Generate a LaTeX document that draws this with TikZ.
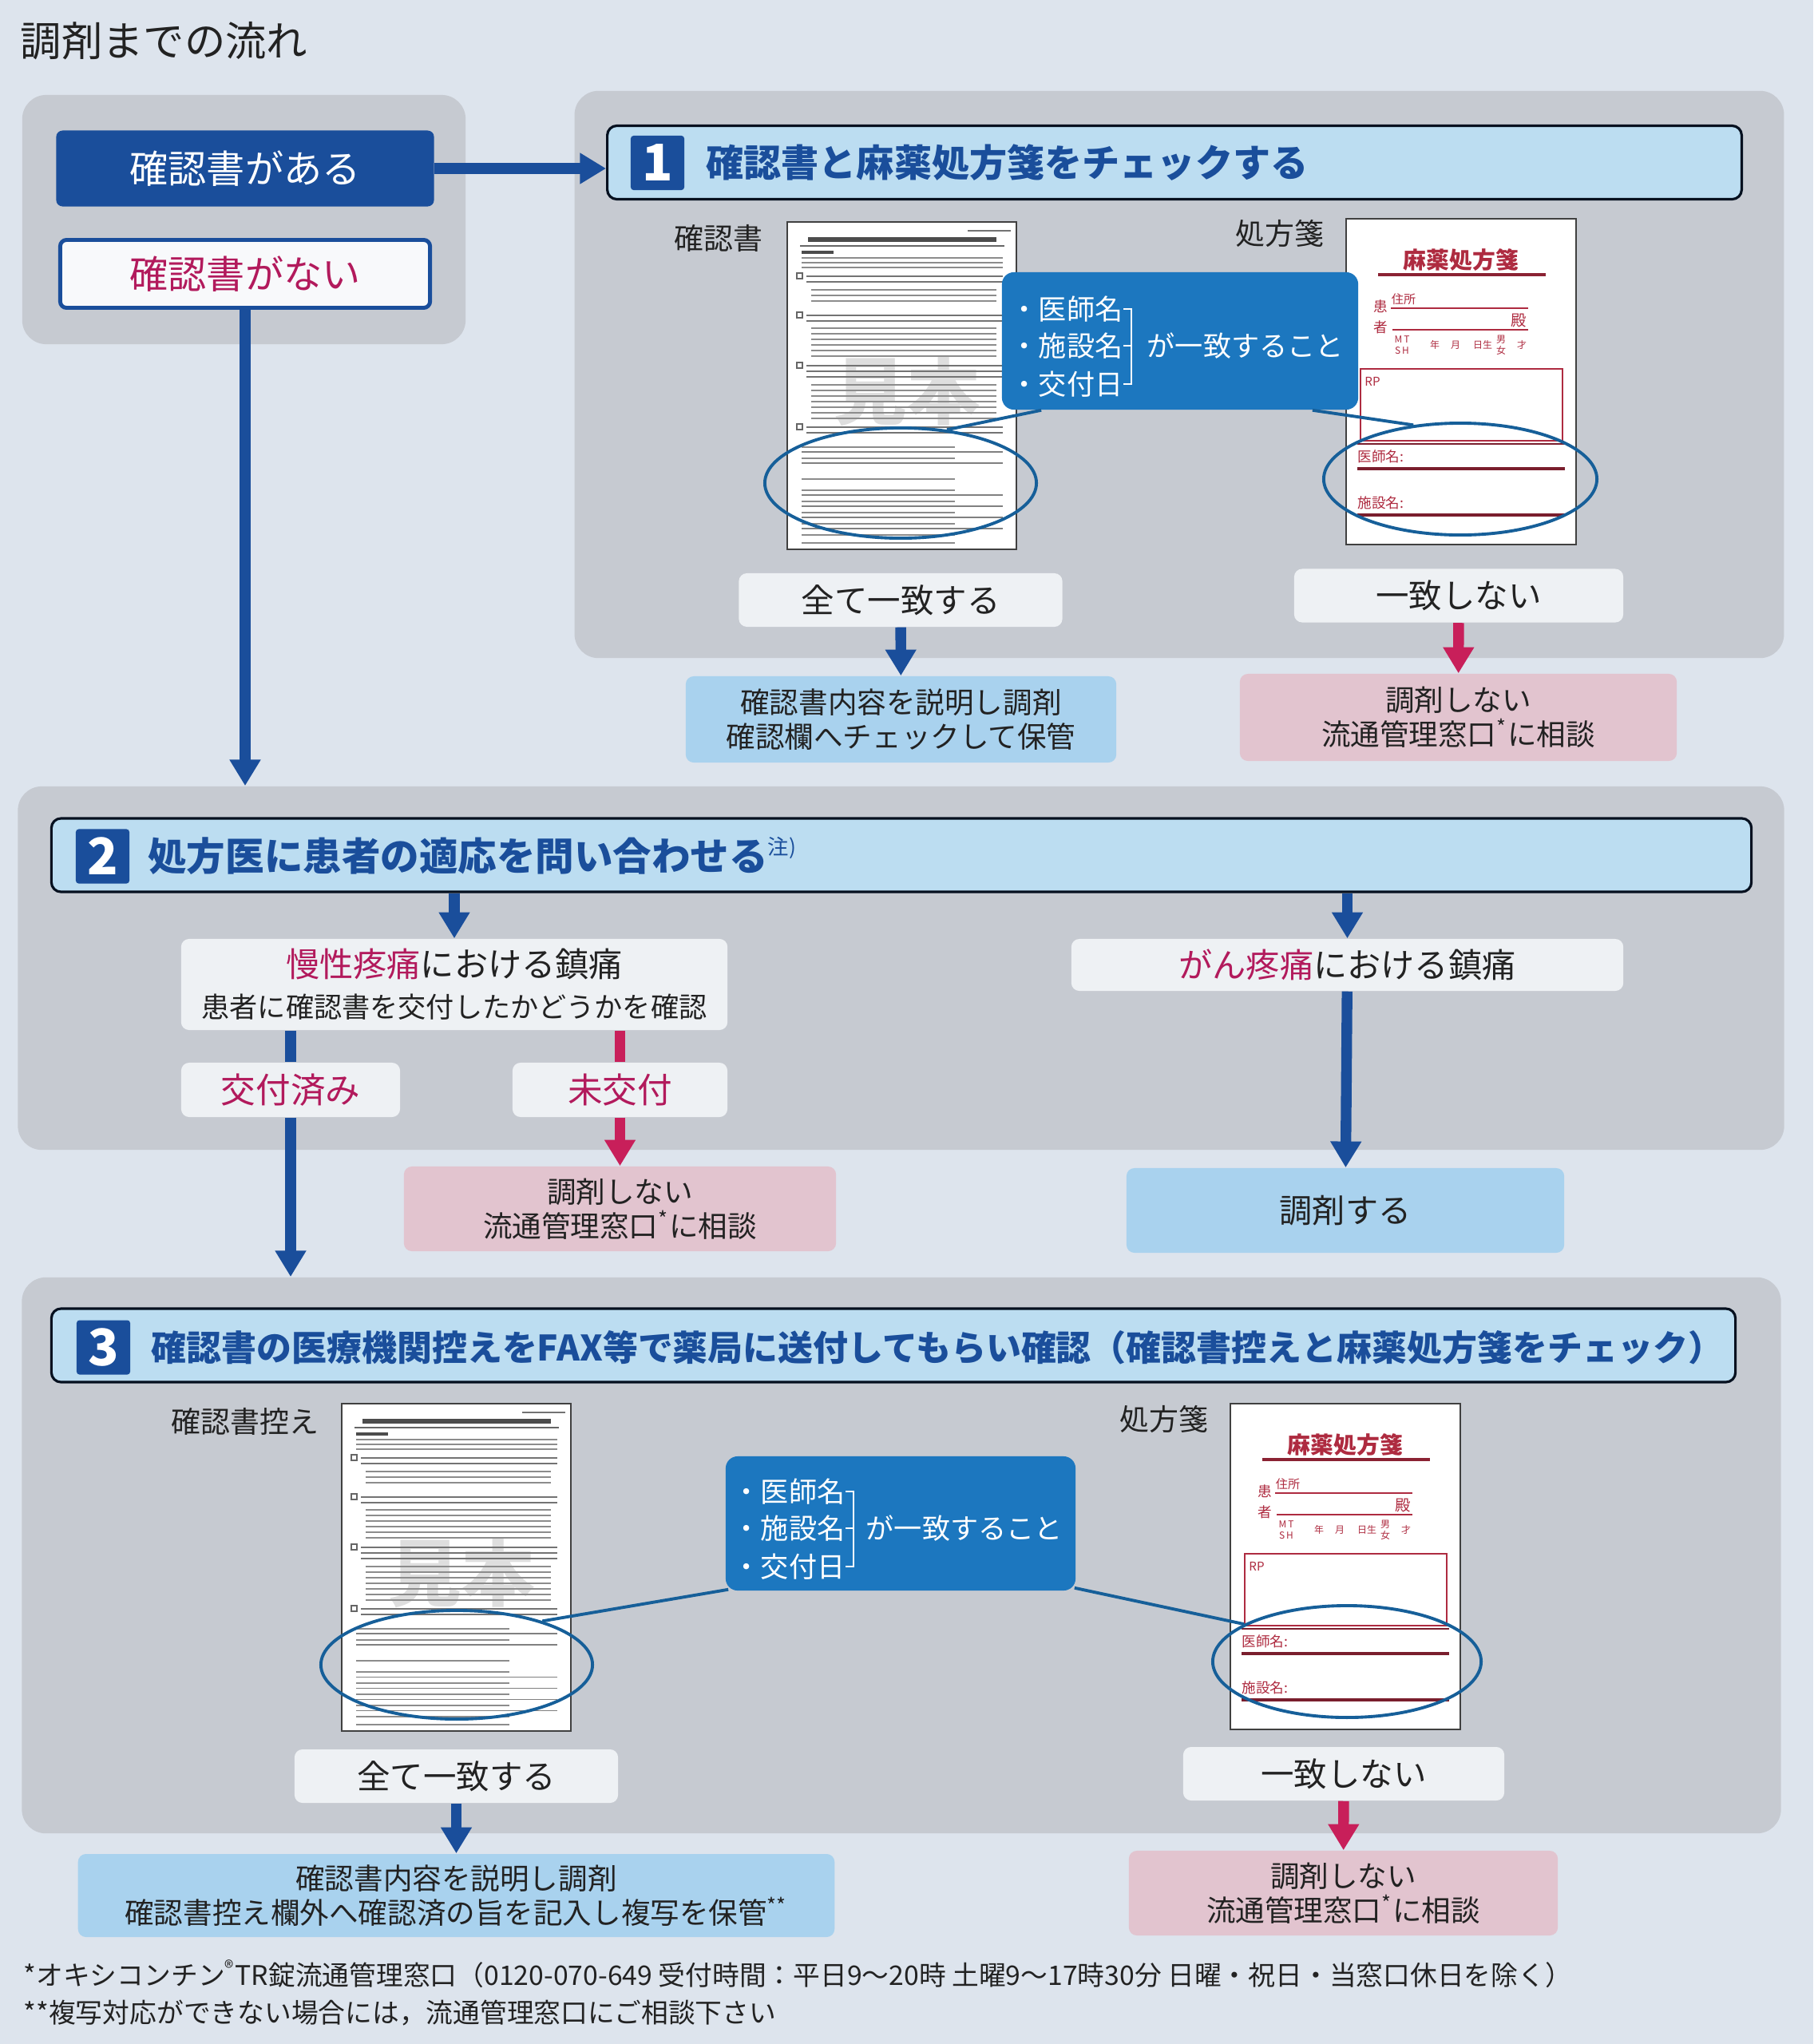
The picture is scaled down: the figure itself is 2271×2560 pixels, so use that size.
\documentclass[tikz,border=0pt]{standalone}
\usepackage{fontspec}
\setmainfont{Noto Sans CJK JP}
\usepackage{xcolor}
\usepackage{tikz}
\usetikzlibrary{shapes.geometric, arrows.meta, positioning, calc}
\definecolor{PaperGray}{HTML}{DDE4ED}
\definecolor{PanelGray}{HTML}{C6CAD1}
\definecolor{DeepBlue}{HTML}{1A4E9B}
\definecolor{HeaderBlue}{HTML}{BCDDF1}
\definecolor{CalloutBlue}{HTML}{1C77BF}
\definecolor{ResultBlue}{HTML}{A9D2EE}
\definecolor{ResultPink}{HTML}{E2C4CF}
\definecolor{LabelWhite}{HTML}{EEF1F4}
\definecolor{AlertRed}{HTML}{C81F5A}
\definecolor{AlertMagenta}{HTML}{B21A5C}
\definecolor{RxRed}{HTML}{AE2B40}
\definecolor{InkDark}{HTML}{222222}

\begin{document}
\begin{tikzpicture}[
    x=0.01cm, y=-0.01cm,
    panel/.style={fill=PanelGray, rounded corners=0.3cm, inner sep=0pt},
    startbox/.style={rounded corners=0.08cm, minimum width=4.73cm, minimum height=0.95cm, inner sep=0pt,
                     font=\fontsize{13.7}{16}\selectfont},
    header/.style={draw=black!80!DeepBlue, line width=0.9pt, fill=HeaderBlue, rounded corners=0.12cm,
                   minimum height=0.92cm, inner sep=0pt},
    numbox/.style={fill=DeepBlue, text=white, minimum width=0.67cm, minimum height=0.68cm, inner sep=0pt,
                   rounded corners=1pt, font=\bfseries\fontsize{18}{18}\selectfont},
    headtext/.style={anchor=west, inner sep=0pt, text=DeepBlue, font=\bfseries\fontsize{13.4}{16}\selectfont},
    doclabel/.style={text=InkDark, inner sep=0pt, font=\fontsize{10.5}{12}\selectfont},
    choice/.style={fill=LabelWhite, rounded corners=0.1cm, minimum height=0.67cm, inner sep=0pt,
                   text=InkDark, font=\fontsize{11.8}{14}\selectfont},
    okbox/.style={fill=ResultBlue, rounded corners=0.1cm, inner sep=0pt, align=center,
                  text=InkDark, font=\fontsize{10.4}{12.2}\selectfont},
    ngbox/.style={okbox, fill=ResultPink},
    bubble/.style={fill=CalloutBlue, rounded corners=0.15cm, inner sep=0pt},
    calltext/.style={anchor=west, inner sep=0pt, text=white, font=\fontsize{10}{12}\selectfont},
    bracket/.style={white, line width=0.6pt},
    hilite/.style={ellipse, draw=CalloutBlue!80!black, line width=1.1pt, inner sep=0pt},
    lead/.style={CalloutBlue!80!black, line width=1.1pt},
    blarrow/.style={-{Triangle[length=9.3pt, width=10.5pt]}, line width=3.8pt, DeepBlue},
    rdarrow/.style={-{Triangle[length=9.3pt, width=10.5pt]}, line width=3.8pt, AlertRed},
    bline/.style={line width=3.8pt, DeepBlue},
    rline/.style={line width=3.8pt, AlertRed},
    docframe/.style={draw=black!75, line width=0.5pt, fill=white},
    docline/.style={black!45, line width=0.35pt},
    rxline/.style={RxRed, line width=0.5pt},
    rxtext/.style={text=RxRed, inner sep=0pt, font=\fontsize{4.3}{5}\selectfont},
    confdoc/.pic={
      \draw[docframe] (0,0) rectangle (287,410);
      \node[text=black!13, inner sep=0pt, font=\bfseries\fontsize{26}{26}\selectfont] (-mark) at (150,212) {見本};
      \draw[black!55, line width=0.8pt] (226,11) -- (280,11);
      \draw[black!70, line width=1.8pt] (26,22) -- (262,22);
      \draw[black!60, line width=0.5pt] (16,30) -- (272,30);
      \draw[black!70, line width=1pt] (18,38) -- (58,38);
      \foreach \yy in {45,51,57} \draw[docline] (18,\yy) -- (270,\yy);
      \foreach \yy in {68,117,180,257} \draw[black!60, line width=0.4pt] (12,\yy-4) rectangle ++(7,7);
      \foreach \yy in {68,75,117,124,180,187,194,257,264} \draw[black!55, line width=0.6pt] (24,\yy) -- (270,\yy);
      \foreach \yy in {85,92,99,133,140,147,154,161,168,204,211,218,225,232,239,246}
        \draw[docline] (30,\yy) -- (262,\yy);
      \foreach \yy in {282,296,322,336,350,364,378,392,402} \draw[docline] (18,\yy) -- (210,\yy);
      \foreach \yy in {288,302,342,356,370,384} \draw[black!50, line width=0.3pt] (18,\yy) -- (270,\yy);
    },
    rxdoc/.pic={
      \draw[docframe] (0,0) rectangle (288,408);
      \node[rxtext, font=\bfseries\fontsize{8.2}{9}\selectfont] (-title) at (144,52) {麻薬処方箋};
      \draw[RxRed!80!black, line width=1.1pt] (40,70) -- (250,70);
      \node[rxtext] (-addr) at (72,101) {住所};
      \node[rxtext, font=\fontsize{5}{5}\selectfont] (-pt1) at (43,110) {患};
      \node[rxtext, font=\fontsize{5}{5}\selectfont] (-pt2) at (43,136) {者};
      \draw[rxline] (56,112) -- (228,112);
      \node[rxtext, font=\fontsize{5.5}{6}\selectfont] (-sama) at (216,128) {殿};
      \draw[rxline] (58,139) -- (228,139);
      \node[rxtext, align=center, font=\fontsize{3.4}{4}\selectfont] (-era) at (70,158) {M\,T\\S\,H};
      \node[rxtext, font=\fontsize{3.4}{4}\selectfont] (-yr) at (111,158) {年};
      \node[rxtext, font=\fontsize{3.4}{4}\selectfont] (-mo) at (137,158) {月};
      \node[rxtext, font=\fontsize{3.4}{4}\selectfont] (-dy) at (171,158) {日生};
      \node[rxtext, align=center, font=\fontsize{3.4}{4}\selectfont] (-sex) at (194,158) {男\\女};
      \node[rxtext, font=\fontsize{3.4}{4}\selectfont] (-age) at (220,158) {才};
      \draw[rxline] (18,188) rectangle (271,278);
      \node[rxtext] (-rp) at (33,204) {RP};
      \draw[RxRed!70!black, line width=0.8pt] (14,282) -- (274,282);
      \node[rxtext, anchor=west, font=\fontsize{5}{6}\selectfont] (-dr) at (14,298) {医師名:};
      \draw[RxRed!70!black, line width=1pt] (14,313) -- (274,313);
      \node[rxtext, anchor=west, font=\fontsize{5}{6}\selectfont] (-inst) at (14,356) {施設名:};
      \draw[RxRed!70!black, line width=1pt] (14,371) -- (274,371);
    }
  ]
    \useasboundingbox (0,0) rectangle (2271,2560);
    \fill[PaperGray] (0,0) rectangle (2271,2560);

    % Title
    \node[anchor=west, inner sep=0pt, text=InkDark, font=\fontsize{14.6}{18}\selectfont] (title) at (25,51) {調剤までの流れ};

    % Panels
    \node[panel, minimum width=5.55cm, minimum height=3.12cm] (panel0) at (305.5,275) {};
    \node[panel, minimum width=15.14cm, minimum height=7.10cm] (panel1) at (1477,469) {};
    \node[panel, minimum width=22.11cm, minimum height=4.55cm] (panel2) at (1128.5,1212.5) {};
    \node[panel, minimum width=22.02cm, minimum height=6.96cm] (panel3) at (1129,1948) {};

    % Start
    \node[startbox, fill=DeepBlue, text=white] (have) at (307,211) {確認書がある};
    \node[startbox, draw=DeepBlue, line width=1.4pt, fill=white!60!LabelWhite, text=AlertMagenta,
          minimum width=4.63cm, minimum height=0.85cm] (nohave) at (307,343) {確認書がない};

    % Step 1
    \node[header, minimum width=14.20cm] (hdr1) at (1471,203.5) {};
    \node[numbox] (num1) at (823.5,204) {1};
    \node[headtext, right=0.26cm of num1] (head1) {確認書と麻薬処方箋をチェックする};

    \node[doclabel] (lab1) at (900,298) {確認書};
    \pic (doc1) at (986,278) {confdoc};
    \node[doclabel] (lab2) at (1603,292) {処方箋};
    \pic (doc2) at (1686,274) {rxdoc};
    \node[hilite, minimum width=3.40cm, minimum height=1.38cm] (ell1) at (1128,605) {};
    \node[hilite, minimum width=3.42cm, minimum height=1.40cm] (ell2) at (1829,600) {};
    \node[bubble, minimum width=4.46cm, minimum height=1.72cm] (call1) at (1478,427) {};
    \draw[lead] ($(call1.south west)+(50,0)$) -- (ell1.49);
    \draw[lead] ($(call1.south east)+(-58,0)$) -- (ell2.131);
    \node[calltext] (dr1) at (1265,387) {・医師名};
    \node[calltext] (inst1) at (1265,433) {・施設名};
    \node[calltext] (date1) at (1265,481) {・交付日};
    \draw[bracket] (dr1.east) -- ++(10,0) |- (date1.east);
    \draw[bracket] (inst1.east) -- ++(10,0);
    \node[calltext, right=0.29cm of inst1] (match1) {が一致すること};

    \node[choice, minimum width=4.05cm] (eq1) at (1128,751.5) {全て一致する};
    \node[choice, minimum width=4.12cm] (neq1) at (1827,746) {一致しない};
    \node[okbox, minimum width=5.39cm, minimum height=1.08cm] (ok1) at (1128.5,901)
      {確認書内容を説明し調剤\\確認欄へチェックして保管};
    \node[ngbox, minimum width=5.47cm, minimum height=1.09cm] (ng1) at (1826.5,898.5)
      {調剤しない\\流通管理窓口\textsuperscript{*}に相談};

    % Step 2
    \node[header, minimum width=21.28cm] (hdr2) at (1129,1071) {};
    \node[numbox] (num2) at (128.5,1072.5) {2};
    \node[headtext, right=0.22cm of num2, font=\bfseries\fontsize{13.8}{16}\selectfont] (head2)
      {処方医に患者の適応を問い合わせる\smash{\raisebox{0.42em}{\mdseries\fontsize{7.5}{7.5}\selectfont 注)}}};
    \node[choice, minimum width=6.84cm, minimum height=1.14cm, align=center, font=\fontsize{12}{14.5}\selectfont]
      (chronic) at (569,1233)
      {\textcolor{AlertMagenta}{慢性疼痛}における鎮痛\\{\fontsize{10}{12}\selectfont 患者に確認書を交付したかどうかを確認}};
    \node[choice, minimum width=6.91cm, minimum height=0.65cm, font=\fontsize{12}{14}\selectfont]
      (cancer) at (1687.5,1208.5) {\textcolor{AlertMagenta}{がん疼痛}における鎮痛};
    \node[choice, minimum width=2.74cm, minimum height=0.68cm, text=AlertMagenta, font=\fontsize{12.4}{14}\selectfont]
      (issued) at (364,1365) {交付済み};
    \node[choice, minimum width=2.69cm, minimum height=0.68cm, text=AlertMagenta, font=\fontsize{12.4}{14}\selectfont]
      (unissued) at (776.5,1365) {未交付};
    \node[ngbox, minimum width=5.41cm, minimum height=1.06cm] (ng2) at (776.5,1514)
      {調剤しない\\流通管理窓口\textsuperscript{*}に相談};
    \node[okbox, minimum width=5.48cm, minimum height=1.06cm, font=\fontsize{11.7}{14}\selectfont]
      (dispense) at (1685,1516) {調剤する};

    % Step 3
    \node[header, minimum width=21.08cm] (hdr3) at (1119,1685) {};
    \node[numbox] (num3) at (129.5,1687.5) {3};
    \node[headtext, right=0.25cm of num3, font=\bfseries\fontsize{12.5}{16}\selectfont] (head3)
      {確認書の医療機関控えをFAX等で薬局に送付してもらい確認（確認書控えと麻薬処方箋をチェック）};

    \node[doclabel] (lab3) at (307,1780) {確認書控え};
    \pic (doc3) at (428,1758) {confdoc};
    \node[doclabel] (lab4) at (1458,1777) {処方箋};
    \pic (doc4) at (1541,1758) {rxdoc};
    \node[hilite, minimum width=3.40cm, minimum height=1.36cm] (ell3) at (572,2085) {};
    \node[hilite, minimum width=3.36cm, minimum height=1.40cm] (ell4) at (1687,2081) {};
    \node[bubble, minimum width=4.38cm, minimum height=1.68cm] (call3) at (1128,1908) {};
    \draw[lead] ($(call3.south west)+(4,-2)$) -- (ell3.27);
    \draw[lead] ($(call3.south east)+(-2,-4)$) -- (ell4.160);
    \node[calltext] (dr3) at (917,1868) {・医師名};
    \node[calltext] (inst3) at (917,1914) {・施設名};
    \node[calltext] (date3) at (917,1962) {・交付日};
    \draw[bracket] (dr3.east) -- ++(10,0) |- (date3.east);
    \draw[bracket] (inst3.east) -- ++(10,0);
    \node[calltext, right=0.25cm of inst3] (match3) {が一致すること};

    \node[choice, minimum width=4.05cm] (eq3) at (571.5,2224.5) {全て一致する};
    \node[choice, minimum width=4.02cm] (neq3) at (1683,2221.5) {一致しない};
    \node[okbox, minimum width=9.47cm, minimum height=1.04cm] (ok3) at (571.5,2374)
      {確認書内容を説明し調剤\\確認書控え欄外へ確認済の旨を記入し複写を保管\textsuperscript{**}};
    \node[ngbox, minimum width=5.37cm, minimum height=1.06cm] (ng3) at (1682.5,2371)
      {調剤しない\\流通管理窓口\textsuperscript{*}に相談};

    % Notes
    \node[anchor=west, inner sep=0pt, text=InkDark, font=\fontsize{9.6}{11}\selectfont] (note1) at (29,2472)
      {*オキシコンチン\textsuperscript{®}TR錠流通管理窓口（0120-070-649 受付時間：平日9〜20時 土曜9〜17時30分 日曜・祝日・当窓口休日を除く）};
    \node[anchor=west, inner sep=0pt, text=InkDark, font=\fontsize{9.6}{11}\selectfont] (note2) at (29,2521)
      {**複写対応ができない場合には，流通管理窓口にご相談下さい};

    % Arrows
    \draw[blarrow] (have.east) -- (have.east -| hdr1.west);
    \draw[blarrow] (nohave.south) -- (nohave.south |- panel2.north);
    \draw[blarrow] (eq1) -- (ok1);
    \draw[rdarrow] (neq1) -- (ng1);
    \draw[blarrow] (hdr2.south -| chronic.north) -- (chronic.north);
    \draw[blarrow] (hdr2.south -| cancer.north) -- (cancer.north);
    \draw[bline] (chronic.south -| issued.north) -- (issued.north);
    \draw[rline] (chronic.south -| unissued.north) -- (unissued.north);
    \draw[blarrow] (issued.south) -- (issued.south |- panel3.north);
    \draw[rdarrow] (unissued) -- (ng2);
    \draw[blarrow] (cancer) -- (dispense);
    \draw[blarrow] (eq3) -- (ok3);
    \draw[rdarrow] (neq3) -- (ng3);

  \end{tikzpicture}
\end{document}
